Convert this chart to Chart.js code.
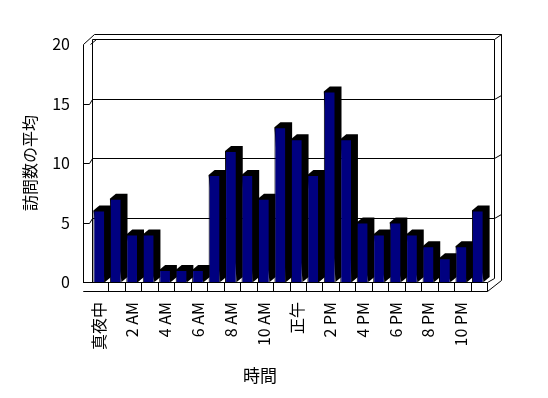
<!DOCTYPE html>
<html lang="ja">
<head>
<meta charset="UTF-8">
<title>時間別 訪問数の平均</title>
<script src="https://cdn.jsdelivr.net/npm/chart.js"></script>
<style>
  html, body { margin: 0; padding: 0; background: #fff; }
  canvas { display: block; }
</style>
</head>
<body>
<canvas id="visitChart" width="548" height="398"></canvas>
<script>
  // data
  const hours = [0, 1, 2, 3, 4, 5, 6, 7, 8, 9, 10, 11, 12, 13, 14, 15, 16, 17, 18, 19, 20, 21, 22, 23];
  const visits = [6, 7, 4, 4, 1, 1, 1, 9, 11, 9, 7, 13, 12, 9, 16, 12, 5, 4, 5, 4, 3, 2, 3, 6];
  const tickLabels = ['真夜中', '2 AM', '4 AM', '6 AM', '8 AM', '10 AM', '正午', '2 PM', '4 PM', '6 PM', '8 PM', '10 PM'];
  const yTicks = [0, 5, 10, 15, 20];
  const xTitle = '時間';
  const yTitle = '訪問数の平均';

  const FONT = '"Noto Sans CJK JP", "Noto Sans", sans-serif';
  const DX = 6, DY = 5;   // depth of the 3D effect

  function line(ctx, pts) {
    ctx.beginPath();
    pts.forEach(([px, py], i) => i ? ctx.lineTo(px + 0.5, py + 0.5) : ctx.moveTo(px + 0.5, py + 0.5));
    ctx.stroke();
  }

  const box3d = {
    id: 'box3d',
    beforeDatasetsDraw(chart) {
      const { ctx, chartArea: a, scales: { y } } = chart;
      const L = Math.round(a.left), R = Math.round(a.right), T = Math.round(a.top), B = Math.round(a.bottom);
      ctx.save();
      ctx.strokeStyle = '#000';
      ctx.lineWidth = 1;

      // left wall + top
      line(ctx, [[L - 8, B + 9], [L - 8, T], [L + 3, T - 10], [R + 15, T - 10], [R + 15, B - 2]]);
      line(ctx, [[L + 1, B], [L + 1, T - DY], [R + 8, T - DY], [R + 8, B - 4]]);
      line(ctx, [[L - 1, T], [L + 5, T - DY]]);
      line(ctx, [[R + 8, T - DY], [R + 15, T - 10]]);

      // back wall grid lines
      yTicks.forEach(v => {
        if (v === 0 || v === 20) return;
        const py = Math.round(y.getPixelForValue(v));
        line(ctx, [[L + 1, py - DY], [R + 8, py - DY]]);
        line(ctx, [[L - 8, py], [L - 2, py], [L + 1, py - DY]]);
        line(ctx, [[R + 8, py - DY], [R + 15, py - DY - 4]]);
      });

      // bar tops and sides
      ctx.fillStyle = '#000';
      chart.getDatasetMeta(0).data.forEach(bar => {
        const x1 = bar.x - bar.width / 2, x2 = bar.x + bar.width / 2;
        ctx.beginPath();
        ctx.moveTo(x1, bar.y);
        ctx.lineTo(x1 + DX, bar.y - DY);
        ctx.lineTo(x2 + DX, bar.y - DY);
        ctx.lineTo(x2 + DX, bar.base - DY);
        ctx.lineTo(x2, bar.base);
        ctx.closePath();
        ctx.fill();
      });
      ctx.restore();
    },
    afterDatasetsDraw(chart) {
      const { ctx, chartArea: a, scales: { x } } = chart;
      const L = Math.round(a.left), R = Math.round(a.right), B = Math.round(a.bottom);
      ctx.save();
      ctx.strokeStyle = '#000';
      ctx.lineWidth = 1;

      // floor front strip
      ctx.fillStyle = '#fff';
      ctx.fillRect(L - 8, B + 1, R - L + 9, 8);
      line(ctx, [[L - 8, B], [R + 1, B], [R + 1, B + 9], [L - 8, B + 9]]);
      line(ctx, [[R + 1, B + 9], [R + 15, B - 2]]);
      line(ctx, [[R + 1, B], [R + 8, B - 4]]);
      for (let k = 1; k < hours.length; k++) {
        const px = Math.round((x.getPixelForValue(k - 1) + x.getPixelForValue(k)) / 2 + 1);
        line(ctx, [[px, B], [px, B + 9]]);
      }

      // x axis title
      ctx.fillStyle = '#000';
      ctx.font = '17px ' + FONT;
      ctx.textAlign = 'center';
      ctx.textBaseline = 'middle';
      ctx.fillText(xTitle, 260, 376);
      ctx.restore();
    }
  };

  new Chart(document.getElementById('visitChart'), {
    type: 'bar',
    data: {
      labels: hours,
      datasets: [{
        data: visits,
        backgroundColor: '#000080',
        borderColor: '#000',
        borderWidth: 1,
        categoryPercentage: 1,
        barPercentage: 0.71
      }]
    },
    options: {
      responsive: false,
      animation: false,
      devicePixelRatio: 1,
      layout: { padding: { top: 44, right: 62, left: 0, bottom: 0 } },
      plugins: { legend: { display: false }, tooltip: { enabled: false } },
      scales: {
        x: {
          grid: { display: false, drawTicks: false },
          border: { display: false },
          ticks: {
            autoSkip: false,
            maxRotation: 90,
            minRotation: 90,
            padding: 20,
            color: '#000',
            font: { family: FONT, size: 16 },
            callback: (v, i) => i % 2 === 0 ? tickLabels[i / 2] : ''
          },
          afterFit: s => { s.height = 116; }
        },
        y: {
          min: 0,
          max: 20,
          grid: { display: false, drawTicks: false },
          border: { display: false },
          ticks: {
            stepSize: 5,
            padding: 21,
            color: '#000',
            font: { family: FONT, size: 16 }
          },
          title: {
            display: true,
            text: yTitle,
            color: '#000',
            font: { family: FONT, size: 16 },
            padding: { top: 20, bottom: 0 }
          },
          afterFit: s => { s.width = 91; }
        }
      }
    },
    plugins: [box3d]
  });
</script>
</body>
</html>
